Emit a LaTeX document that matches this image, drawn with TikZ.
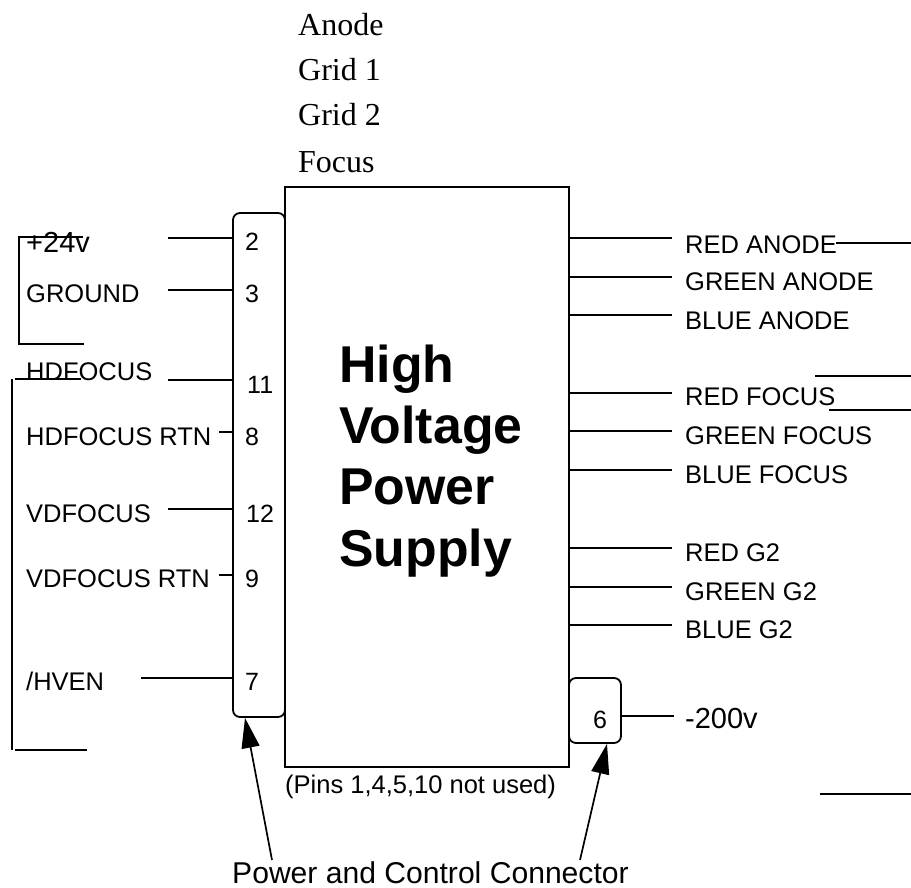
\documentclass[tikz,border=0pt]{standalone}
\usepackage{fontspec}
\setmainfont{Liberation Sans}
\newfontfamily\serifface{Liberation Serif}
\usetikzlibrary{arrows.meta, positioning}
\tikzstyle{wire} = [line width=1.7pt, black]
\tikzstyle{outline} = [draw, line width=1.8pt, inner sep=0pt]
\tikzstyle{socket} = [outline, fill=white, rounded corners=7pt]
\tikzstyle{signal} = [anchor=base west, inner sep=0pt, font=\fontsize{25.5}{25.5}\selectfont]
\tikzstyle{pin} = [signal, font=\fontsize{25}{25}\selectfont]
\tikzstyle{rail} = [anchor=base west, inner sep=0pt, font=\serifface\fontsize{32}{32}\selectfont]
\tikzstyle{pointer} = [-{Triangle[length=30pt,width=18pt]}, line width=1.7pt]

\begin{document}
\begin{tikzpicture}[x=1pt, y=-1pt]
\useasboundingbox (0,0) rectangle (911,888);

% Supply box and the two connector blocks
\node[outline, minimum width=284pt, minimum height=580pt] (hvps) at (427,477) {};
\node[socket, minimum width=52pt, minimum height=504pt] (connmain) at (259,465) {};
\node[socket, minimum width=52pt, minimum height=65pt] (connneg) at (595,710.5) {};
\node[anchor=base west, inner sep=0pt, align=left, font=\bfseries\fontsize{51.8}{61.3}\selectfont] (title) at (339,566) {High\\Voltage\\Power\\Supply};

% Electrode names above the box
\node[rail] (anode) at (298,36) {Anode};
\node[rail] (gridone) at (298,81) {Grid 1};
\node[rail] (gridtwo) at (298,126) {Grid 2};
\node[rail] (focus) at (298,173) {Focus};

% Left column labels
\node[signal, font=\fontsize{29}{29}\selectfont] (plus24) at (26,252) {+24v};
\node[signal] (ground) at (26,302) {GROUND};
\node[signal] (hdfocus) at (26,380) {HDFOCUS};
\node[signal] (hdrtn) at (26,445) {HDFOCUS RTN};
\node[signal] (vdfocus) at (26,522) {VDFOCUS};
\node[signal] (vdrtn) at (26,587) {VDFOCUS RTN};
\node[signal] (hven) at (26,690) {/HVEN};

% Pin numbers
\node[pin] (pin2) at (245,250) {2};
\node[pin] (pin3) at (245,302) {3};
\node[pin] (pin11) at (247,393) {11};
\node[pin] (pin8) at (245,445) {8};
\node[pin] (pin12) at (246,522) {12};
\node[pin] (pin9) at (245,587) {9};
\node[pin] (pin7) at (245,690) {7};
\node[pin] (pin6) at (593,728) {6};

% Right column labels
\node[signal] (redanode) at (685,253) {RED ANODE};
\node[signal] (greenanode) at (685,290) {GREEN ANODE};
\node[signal] (blueanode) at (685,329) {BLUE ANODE};
\node[signal] (redfocus) at (685,405) {RED FOCUS};
\node[signal] (greenfocus) at (685,444) {GREEN FOCUS};
\node[signal] (bluefocus) at (685,483) {BLUE FOCUS};
\node[signal] (redgtwo) at (685,561) {RED G2};
\node[signal] (greengtwo) at (685,600) {GREEN G2};
\node[signal] (bluegtwo) at (685,638) {BLUE G2};
\node[signal, font=\fontsize{29}{29}\selectfont] (neg200) at (685,728) {-200v};

% Notes under the box
\node[signal] (unused) at (285,793) {(Pins 1,4,5,10 not used)};
\node[signal, font=\fontsize{30.1}{30.1}\selectfont] (caption) at (232,883) {Power and Control Connector};

% Free ends of the wires
\coordinate (w2) at (168,238);
\coordinate (w3) at (168,290);
\coordinate (w11) at (168,380);
\coordinate (w8) at (219,432);
\coordinate (w12) at (168,509);
\coordinate (w9) at (219,575);
\coordinate (w7) at (141,678);
\coordinate (w6) at (674,716);
\coordinate (wra) at (672,238);
\coordinate (wga) at (672,277);
\coordinate (wba) at (672,315);
\coordinate (wrf) at (672,393);
\coordinate (wgf) at (672,431);
\coordinate (wbf) at (672,470);
\coordinate (wrg) at (672,548);
\coordinate (wgg) at (672,587);
\coordinate (wbg) at (672,625);

% Wires on the left connector
\draw[wire] (w2) -- (w2 -| connmain.west);
\draw[wire] (w3) -- (w3 -| connmain.west);
\draw[wire] (w11) -- (w11 -| connmain.west);
\draw[wire] (w8) -- (w8 -| connmain.west);
\draw[wire] (w12) -- (w12 -| connmain.west);
\draw[wire] (w9) -- (w9 -| connmain.west);
\draw[wire] (w7) -- (w7 -| connmain.west);

% Wires on the right side
\draw[wire] (wra) -- (wra -| hvps.east);
\draw[wire] (wga) -- (wga -| hvps.east);
\draw[wire] (wba) -- (wba -| hvps.east);
\draw[wire] (wrf) -- (wrf -| hvps.east);
\draw[wire] (wgf) -- (wgf -| hvps.east);
\draw[wire] (wbf) -- (wbf -| hvps.east);
\draw[wire] (wrg) -- (wrg -| hvps.east);
\draw[wire] (wgg) -- (wgg -| hvps.east);
\draw[wire] (wbg) -- (wbg -| hvps.east);
\draw[wire] (w6) -- (w6 -| connneg.east);

% Leftover brackets and stubs
\coordinate (brAtop) at (83,237);
\coordinate (brAcorner) at (19,237);
\coordinate (brAlow) at (19,344);
\coordinate (brAend) at (84,344);
\draw[wire] (brAtop) -- (brAcorner) -- (brAlow) -- (brAend);
\coordinate (brBtop) at (12,379);
\coordinate (brBlow) at (12,750);
\draw[wire] (brBtop) -- (brBlow);
\coordinate (stubBa) at (15,379);
\coordinate (stubBb) at (81,379);
\draw[wire] (stubBa) -- (stubBb);
\coordinate (stubCa) at (15,750);
\coordinate (stubCb) at (87,750);
\draw[wire] (stubCa) -- (stubCb);
\coordinate (stubDa) at (836,243);
\coordinate (stubDb) at (911,243);
\draw[wire] (stubDa) -- (stubDb);
\coordinate (stubEa) at (815,376);
\coordinate (stubEb) at (911,376);
\draw[wire] (stubEa) -- (stubEb);
\coordinate (stubFa) at (829,410);
\coordinate (stubFb) at (911,410);
\draw[wire] (stubFa) -- (stubFb);
\coordinate (stubGa) at (820,794);
\coordinate (stubGb) at (911,794);
\draw[wire] (stubGa) -- (stubGb);

% Arrows from the caption
\coordinate (tailmain) at (272,860);
\coordinate (tailneg) at (580,860);
\draw[pointer] (tailmain) -- ([xshift=-14pt]connmain.south);
\draw[pointer] (tailneg) -- ([xshift=12pt]connneg.south);

\end{tikzpicture}
\end{document}
